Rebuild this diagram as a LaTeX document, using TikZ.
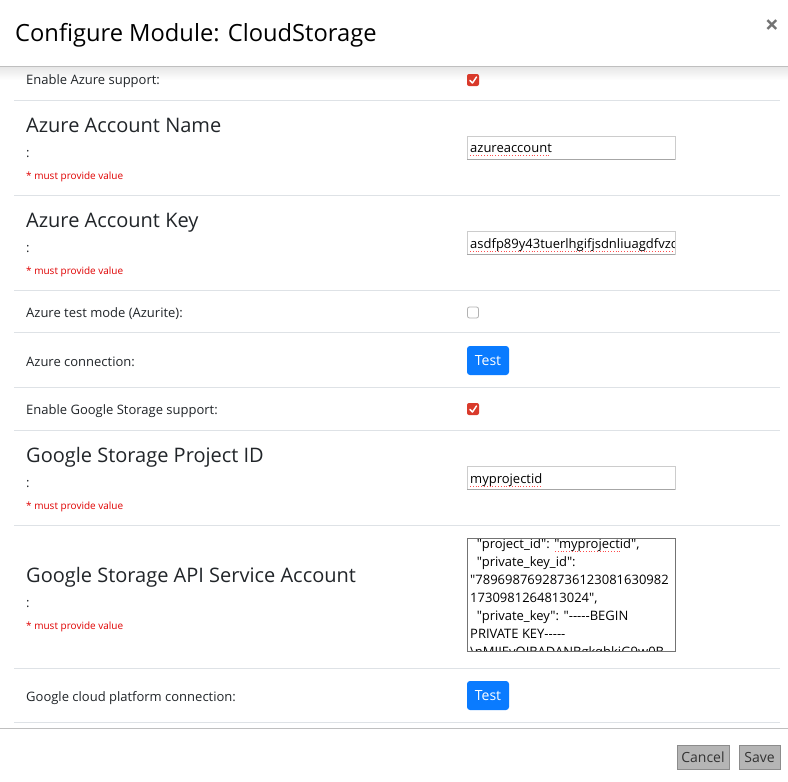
\documentclass[tikz,border=0pt]{standalone}
\usepackage{fontspec}
\setmainfont{Open Sans}[Ligatures=TeXOff]
\definecolor{sepc}{HTML}{DEE2E6}
\definecolor{txt}{HTML}{212529}
\definecolor{reqc}{HTML}{E00000}
\definecolor{chkred}{HTML}{D93A2B}
\definecolor{btnblue}{HTML}{0A7BFF}
\definecolor{footbtn}{HTML}{B5B5B5}
\tikzset{
  lbl/.style={anchor=base west,inner sep=0pt,text=txt,font=\fontsize{13}{15}\selectfont},
  biglbl/.style={anchor=base west,inner sep=0pt,text=txt,font=\fontsize{20}{24}\selectfont},
  req/.style={anchor=base west,inner sep=0pt,text=reqc,font=\fontsize{10}{12}\selectfont},
  sepline/.style={draw=sepc,line width=1pt},
  inbox/.style={draw=black!20,fill=white,line width=0.8pt},
  intext/.style={anchor=base west,inner sep=0pt,text=black,font=\fontsize{13}{16}\selectfont},
  spell/.style={draw=red!70,dotted,line width=0.8pt},
  btn/.style={fill=btnblue,rounded corners=3pt},
  btntext/.style={text=white,font=\fontsize{14}{16}\selectfont,inner sep=0pt},
  chk/.style={fill=chkred,rounded corners=2pt},
  fbtn/.style={fill=footbtn,draw=black!45,line width=0.6pt},
  fbtntext/.style={text=black!80,font=\fontsize{14}{16}\selectfont,inner sep=0pt},
  ta/.style={anchor=base west,inner sep=0pt,text=black,font=\fontsize{13}{16}\selectfont}
}
\begin{document}
\begin{tikzpicture}[x=1pt,y=-1pt]
\useasboundingbox (0,0) rectangle (788,782);
\fill[white] (0,0) rectangle (788,782);
% header
\node[anchor=base west,inner sep=0pt,text=black,font=\fontsize{23.7}{28}\selectfont] (title) at (15,41) {Configure Module: CloudStorage};
\node[text=black!55,font=\bfseries\fontsize{24}{24}\selectfont,inner sep=0pt] (close) at (772,27) {×};
\shade[top color=black!10,bottom color=white] (0,66) rectangle (788,80);
\draw[black!25,line width=1pt] (0,66) -- (788,66);
% separators
\foreach \yy in {100,195,290,332,387,430,525,668,722}{
  \draw[sepline] (14,\yy) -- (780,\yy);
}
% Row 1
\node[lbl] (l1) at (26,84) {Enable Azure support:};
\fill[chk] (467,74) rectangle (479,86);
\draw[white,line width=1.5pt,line cap=round,line join=round] (470,80.5) -- (472.5,83) -- (476.5,77);
% Row 2
\node[biglbl] (l2) at (26,132) {Azure Account Name};
\node[lbl] (c2) at (26,157) {:};
\node[req] (r2) at (26,179) {* must provide value};
\draw[inbox] (467,136) rectangle (675,159);
\draw[black!35,line width=0.8pt] (467,159) -- (675,159);
\node[intext] (v2) at (470,152) {azureaccount};
\draw[spell] (470,155) -- (551,155);
% Row 3
\node[biglbl] (l3) at (26,227) {Azure Account Key};
\node[lbl] (c3) at (26,252) {:};
\node[req] (r3) at (26,274) {* must provide value};
\draw[inbox] (467,231) rectangle (675,254);
\draw[black!35,line width=0.8pt] (467,254) -- (675,254);
\begin{scope}
\clip (468,232) rectangle (674,253);
\node[intext] (v3) at (470,248) {asdfp89y43tuerlhgifjsdnliuagdfvzd};
\draw[spell] (470,251) -- (674,251);
\end{scope}
% Row 4
\node[lbl] (l4) at (26,317) {Azure test mode (Azurite):};
\draw[draw=black!30,fill=white,rounded corners=2pt,line width=0.8pt] (467.5,307) rectangle (478.5,318);
% Row 5
\node[lbl] (l5) at (26,366) {Azure connection:};
\fill[btn] (467,346) rectangle (509,375);
\node[btntext] (b5) at (488,360.5) {Test};
% Row 6
\node[lbl] (l6) at (26,414) {Enable Google Storage support:};
\fill[chk] (467,403) rectangle (479,415);
\draw[white,line width=1.5pt,line cap=round,line join=round] (470,409.5) -- (472.5,412) -- (476.5,406);
% Row 7
\node[biglbl] (l7) at (26,462) {Google Storage Project ID};
\node[lbl] (c7) at (26,487) {:};
\node[req] (r7) at (26,509) {* must provide value};
\draw[inbox] (467,466) rectangle (675,489);
\draw[black!35,line width=0.8pt] (467,489) -- (675,489);
\node[intext] (v7) at (470,483) {myprojectid};
\draw[spell] (470,486) -- (541,486);
% Row 8
\node[biglbl] (l8) at (26,582) {Google Storage API Service Account};
\node[lbl] (c8) at (26,607) {:};
\node[req] (r8) at (26,629) {* must provide value};
\draw[fill=white,draw=black!55,line width=0.9pt] (467,538) rectangle (675,651);
\begin{scope}
\clip (468,539) rectangle (674,650);
\node[ta] (t1) at (470,548) {\ \ "project\_id": "myprojectid",};
\draw[spell] (555,551) -- (620,551);
\node[ta] (t2) at (470,566) {\ \ "private\_key\_id":};
\node[ta] (t3) at (470,584) {"78969876928736123081630982};
\node[ta] (t4) at (470,602) {1730981264813024",};
\node[ta] (t5) at (470,620) {\ \ "private\_key": "-----BEGIN};
\node[ta] (t6) at (470,638) {PRIVATE KEY-----};
\node[ta] (t7) at (470,656) {\textbackslash nMIIEvQIBADANBgkqhkiG9w0B};
\end{scope}
% Row 9
\node[lbl] (l9) at (26,701) {Google cloud platform connection:};
\fill[btn] (467,681) rectangle (509,710);
\node[btntext] (b9) at (488,695.5) {Test};
% footer
\draw[black!25,line width=1pt] (0,728) -- (788,728);
\draw[fbtn] (677,745) rectangle (729,769);
\node[fbtntext] (cancel) at (703,757) {Cancel};
\draw[fbtn] (739,745) rectangle (780,769);
\node[fbtntext] (save) at (759.5,757) {Save};
\end{tikzpicture}
\end{document}
